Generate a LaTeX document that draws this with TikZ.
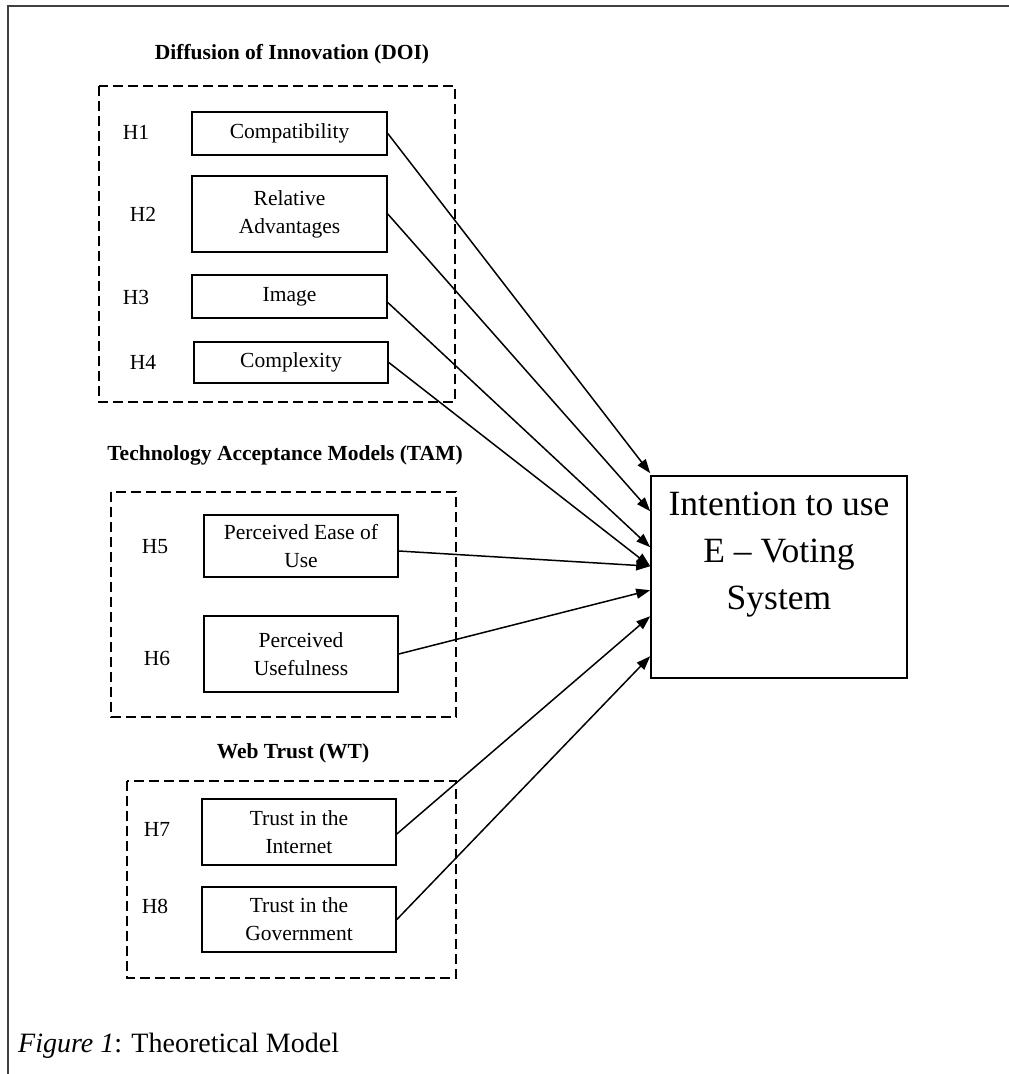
\documentclass[tikz,border=0pt]{standalone}
\usepackage{fontspec}
\setmainfont{Liberation Serif}
\usetikzlibrary{arrows.meta}
\begin{document}
\begin{tikzpicture}[x=1pt,y=-1pt,
  lbl/.style={inner sep=0pt,font=\fontsize{21.5}{28}\selectfont},
  ttl/.style={inner sep=0pt,font=\fontsize{21.5}{28}\selectfont\bfseries},
  cbox/.style={draw,line width=1.6pt,align=center,inner sep=0pt,minimum width=195pt,font=\fontsize{21.5}{28}\selectfont},
  grp/.style={draw,line width=1.1pt,dash pattern=on 10pt off 5pt},
  frame/.style={draw=black!75,line width=1.6pt},
  link/.style={line width=1.5pt,-{Triangle[length=14pt,width=10pt]}}]
\useasboundingbox (0,0) rectangle (1009,1074);
% outer frame (top and left edges only)
\draw[frame] (8,1074) -- (8,6) -- (1009,6);
% group frames
\draw[grp] (99,86) rectangle (455,402);
\draw[grp] (111,492) rectangle (456,717);
\draw[grp] (127,781) rectangle (456,978);
% titles
\node[ttl] (tdoi) at (292,54) {Diffusion of Innovation (DOI)};
\node[ttl] (ttam) at (285,455) {Technology Acceptance Models (TAM)};
\node[ttl] (twt) at (293,753) {Web Trust (WT)};
% construct boxes
\node[cbox,minimum height=43pt] (comp) at (289.5,133.5) {Compatibility};
\node[cbox,minimum height=76pt] (radv) at (289.5,214) {Relative\\Advantages};
\node[cbox,minimum height=43pt] (img) at (289.5,296.5) {Image};
\node[cbox,minimum width=194pt,minimum height=41pt] (cplx) at (291,362.5) {Complexity};
\node[cbox,minimum width=194pt,minimum height=62pt] (peou) at (301,546) {Perceived Ease of\\Use};
\node[cbox,minimum width=194pt,minimum height=76pt] (pu) at (301,654) {Perceived\\Usefulness};
\node[cbox,minimum width=194pt,minimum height=66pt] (tii) at (299,832) {Trust in the\\Internet};
\node[cbox,minimum width=194pt,minimum height=65pt] (tig) at (299,919.5) {Trust in the\\Government};
% hypothesis labels
\node[lbl] (h1) at (136,132) {H1};
\node[lbl] (h2) at (143,214) {H2};
\node[lbl] (h3) at (136,297) {H3};
\node[lbl] (h4) at (143,362) {H4};
\node[lbl] (h5) at (155,547) {H5};
\node[lbl] (h6) at (157,658) {H6};
\node[lbl] (h7) at (157,829) {H7};
\node[lbl] (h8) at (155,906) {H8};
% goal box
\node[draw,line width=1.6pt,minimum width=256pt,minimum height=202pt,inner sep=0pt] (goal) at (779,577) {};
\node[inner sep=0pt,align=center,font=\fontsize{35.5}{47}\selectfont,anchor=north] (goaltxt) at (779,492) {Intention to use\\E -- Voting\\System};
% connectors
\draw[link] (comp.east) -- ([yshift=2pt]goal.north west);
\draw[link] (radv.east) -- ([yshift=-36pt]goal.north west);
\draw[link] ([yshift=-6pt]img.east) -- ([yshift=-72pt]goal.north west);
\draw[link] (cplx.east) -- ([yshift=-91pt]goal.north west);
\draw[link] ([yshift=-5pt]peou.east) -- ([yshift=-91pt]goal.north west);
\draw[link] (pu.east) -- ([yshift=-115pt]goal.north west);
\draw[link] ([yshift=-2pt]tii.east) -- ([yshift=-141pt]goal.north west);
\draw[link] (tig.east) -- ([yshift=-181pt]goal.north west);
% caption
\node[inner sep=0pt,anchor=base west,font=\fontsize{28}{34}\selectfont] (cap) at (18,1052) {\textit{Figure 1}: Theoretical Model};
\end{tikzpicture}
\end{document}
